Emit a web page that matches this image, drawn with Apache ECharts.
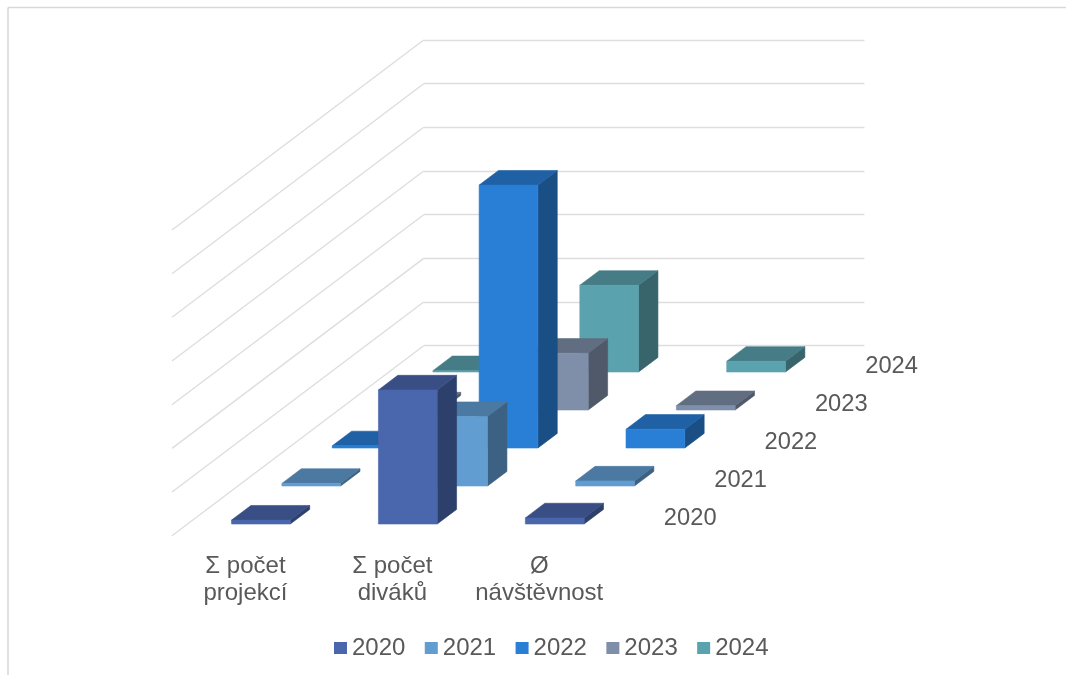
<!DOCTYPE html>
<html>
<head>
<meta charset="utf-8">
<style>html,body{margin:0;padding:0;background:#fff}#c{width:1076px;height:675px}</style>
<script src="https://cdn.jsdelivr.net/npm/echarts@6/dist/echarts.min.js"></script>
</head>
<body>
<div id="c"></div>
<script>
const categories = ['Σ počet\nprojekcí', 'Σ počet\ndiváků', 'Ø\nnávštěvnost'];
const years = ['2020', '2021', '2022', '2023', '2024'];
const values2020 = [900, 30700, 1400];
const values2021 = [600, 15900, 1150];
const values2022 = [500, 60200, 4300];
const values2023 = [700, 13000, 1000];
const values2024 = [300, 19850, 2450];
const tickValues = [0, 10000, 20000, 30000, 40000, 50000, 60000, 70000];
const frontColors = ['#4A66AC', '#629DD1', '#297FD5', '#7F8FA9', '#5AA2AE'];
const topColors = ['#394E84', '#4B79A1', '#1F61A4', '#616E82', '#457C86'];
const sideColors = ['#2D3F6B', '#3D6182', '#1A4F85', '#4F5969', '#38656C'];

const allValues = [values2020, values2021, values2022, values2023, values2024];
// oblique projection of the depth axis
const DX = 50.34, DY = 38;
const GAP = 0.3075, DEPTH = 0.385, BAR = 0.4;
const TXT = '#595959', FONT = '"Liberation Sans", Arial, sans-serif', LINE = '#DDDDDD';

function barRenderer(d) {
  return function (params, api) {
    const c = api.value(0), v = api.value(1);
    const p0 = api.coord([c, 0]), p1 = api.coord([c, v]);
    const band = api.size([1, 0])[0];
    const w = band * BAR;
    const ox = (d + GAP) * DX, oy = (d + GAP) * DY;
    const dw = DEPTH * DX, dh = DEPTH * DY;
    const xl = p0[0] - w / 2 + ox, xr = xl + w;
    const yb = p0[1] - oy, yt = p1[1] - oy;
    return {
      type: 'group',
      children: [
        { type: 'polygon', shape: { points: [[xr, yt], [xr + dw, yt - dh], [xr + dw, yb - dh], [xr, yb]] },
          style: { fill: sideColors[d], stroke: sideColors[d], lineWidth: 0.6 } },
        { type: 'polygon', shape: { points: [[xl, yt], [xl + dw, yt - dh], [xr + dw, yt - dh], [xr, yt]] },
          style: { fill: topColors[d], stroke: topColors[d], lineWidth: 0.6 } },
        { type: 'polygon', shape: { points: [[xl, yt], [xr, yt], [xr, yb], [xl, yb]] },
          style: { fill: frontColors[d], stroke: frontColors[d], lineWidth: 0.6 } }
      ]
    };
  };
}

const barSeries = years.map((y, d) => ({
  type: 'custom',
  name: y,
  xAxisIndex: 0,
  yAxisIndex: 0,
  clip: false,
  silent: true,
  z: 5,
  itemStyle: { color: frontColors[d] },
  encode: { x: 0, y: 1 },
  data: allValues[d].map((v, c) => [c, v]),
  renderItem: barRenderer(d)
})).reverse();

const wallSeries = {
  type: 'custom',
  name: 'wall',
  xAxisIndex: 0,
  yAxisIndex: 0,
  clip: false,
  silent: true,
  z: 1,
  encode: { x: 0, y: 1 },
  data: tickValues.map(v => [0, v]),
  renderItem(params, api) {
    const p = api.coord([0, api.value(1)]);
    const x = p[0] - api.size([1, 0])[0] / 2;
    const n = years.length;
    return { type: 'line', shape: { x1: x, y1: p[1], x2: x + n * DX, y2: p[1] - n * DY },
      style: { stroke: LINE, lineWidth: 1.3, fill: null } };
  }
};

const depthLabelSeries = {
  type: 'custom',
  name: 'depthLabels',
  xAxisIndex: 0,
  yAxisIndex: 0,
  clip: false,
  silent: true,
  z: 6,
  encode: { x: 0, y: 1 },
  data: years.map(() => [categories.length - 1, 0]),
  renderItem(params, api) {
    const d = params.dataIndex;
    const p = api.coord([api.value(0), 0]);
    const band = api.size([1, 0])[0];
    return { type: 'text', x: p[0] + band / 2 + (d + 0.5) * DX + 26, y: p[1] - (d + 0.5) * DY + 1.8,
      style: { text: years[d], fill: TXT, font: '23.7px ' + FONT, textAlign: 'left', textVerticalAlign: 'middle' } };
  }
};

const chart = echarts.init(document.getElementById('c'), null, { renderer: 'canvas' });
chart.setOption({
  animation: false,
  backgroundColor: '#fff',
  graphic: [
    { type: 'line', silent: true, shape: { x1: 8, y1: 7.5, x2: 1066, y2: 7.5 }, style: { stroke: '#D9D9D9', lineWidth: 1.3 } },
    { type: 'line', silent: true, shape: { x1: 8, y1: 7.5, x2: 8, y2: 675 }, style: { stroke: '#D9D9D9', lineWidth: 1.6 } }
  ],
  legend: {
    data: years,
    left: 329,
    top: 631,
    itemWidth: 13,
    itemHeight: 12,
    itemGap: 19.4,
    icon: 'rect',
    selectedMode: false,
    textStyle: { color: TXT, fontSize: 24, fontFamily: FONT, padding: [0, 0, 0, 0] }
  },
  grid: [
    { left: 172, top: 230, width: 440.7, height: 305.7 },
    { left: 423.7, top: 40, width: 440.7, height: 305.7 }
  ],
  xAxis: [
    { type: 'category', gridIndex: 0, data: categories,
      axisLine: { show: false }, axisTick: { show: false }, splitLine: { show: false },
      axisLabel: { interval: 0, color: TXT, fontSize: 24, fontFamily: FONT, lineHeight: 27, margin: 17 } },
    { type: 'category', gridIndex: 1, data: categories,
      axisLine: { show: false }, axisTick: { show: false }, splitLine: { show: false }, axisLabel: { show: false } }
  ],
  yAxis: [
    { type: 'value', gridIndex: 0, min: 0, max: 70000, interval: 10000,
      axisLine: { show: false }, axisTick: { show: false }, axisLabel: { show: false }, splitLine: { show: false } },
    { type: 'value', gridIndex: 1, min: 0, max: 70000, interval: 10000,
      axisLine: { show: false }, axisTick: { show: false }, axisLabel: { show: false },
      splitLine: { show: true, lineStyle: { color: LINE, width: 1.3 } } }
  ],
  series: [wallSeries].concat(barSeries, [depthLabelSeries])
});
</script>
</body>
</html>
